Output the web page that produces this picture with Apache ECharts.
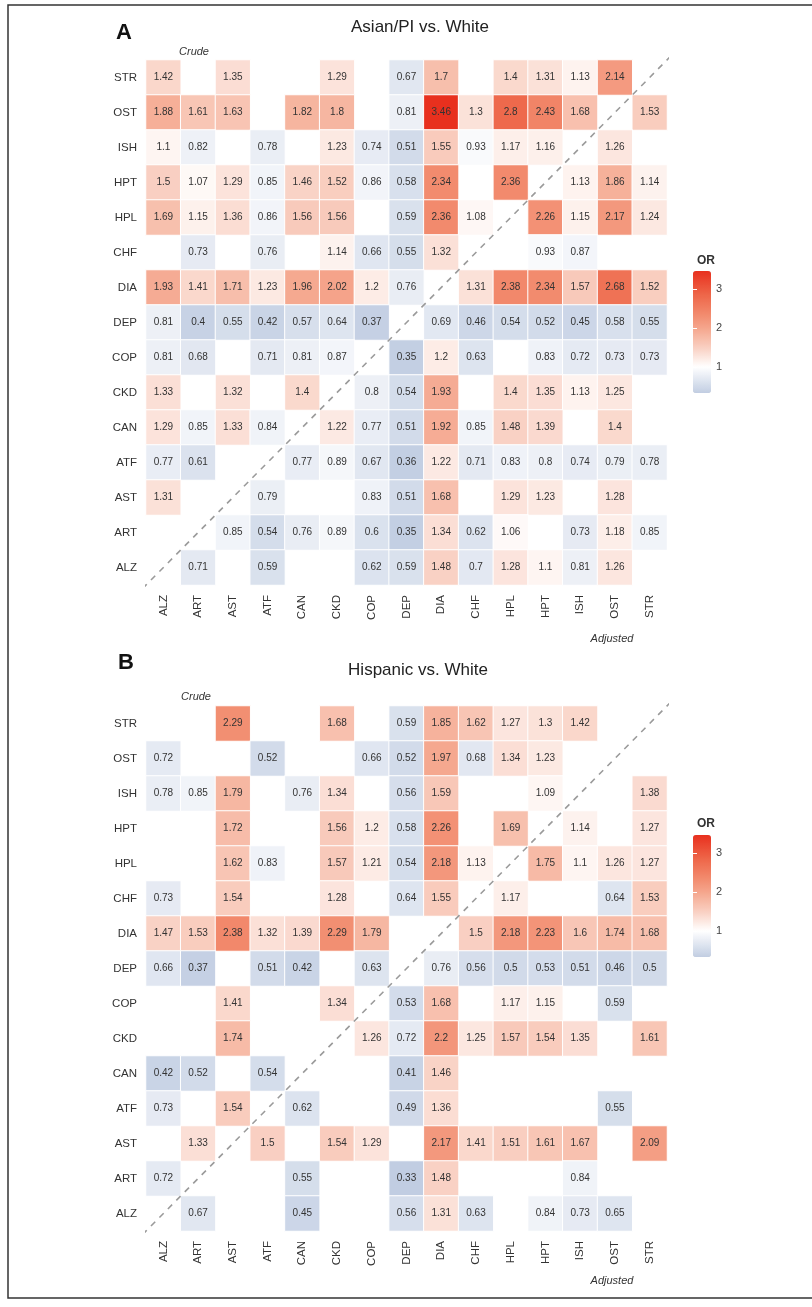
<!DOCTYPE html>
<html><head><meta charset="utf-8">
<script src="https://cdn.jsdelivr.net/npm/echarts@6/dist/echarts.min.js"></script>
<style>html,body{margin:0;padding:0;background:#fff}#c{width:812px;height:1307px}</style>
</head><body><div id="c"></div>
<script>
// Axis categories (x left->right, y bottom->top)
const conditions = ['ALZ','ART','AST','ATF','CAN','CKD','COP','DEP','DIA','CHF','HPL','HPT','ISH','OST','STR'];
// Rows listed top (STR) to bottom (ALZ); columns follow `conditions`; null = blank cell
const rowOrderTopDown = ['STR','OST','ISH','HPT','HPL','CHF','DIA','DEP','COP','CKD','CAN','ATF','AST','ART','ALZ'];

const asianVsWhite = [
  [1.42,null,1.35,null,null,1.29,null,0.67,1.7,null,1.4,1.31,1.13,2.14,null],
  [1.88,1.61,1.63,null,1.82,1.8,null,0.81,3.46,1.3,2.8,2.43,1.68,null,1.53],
  [1.1,0.82,null,0.78,null,1.23,0.74,0.51,1.55,0.93,1.17,1.16,null,1.26,null],
  [1.5,1.07,1.29,0.85,1.46,1.52,0.86,0.58,2.34,null,2.36,null,1.13,1.86,1.14],
  [1.69,1.15,1.36,0.86,1.56,1.56,null,0.59,2.36,1.08,null,2.26,1.15,2.17,1.24],
  [null,0.73,null,0.76,null,1.14,0.66,0.55,1.32,null,null,0.93,0.87,null,null],
  [1.93,1.41,1.71,1.23,1.96,2.02,1.2,0.76,null,1.31,2.38,2.34,1.57,2.68,1.52],
  [0.81,0.4,0.55,0.42,0.57,0.64,0.37,null,0.69,0.46,0.54,0.52,0.45,0.58,0.55],
  [0.81,0.68,null,0.71,0.81,0.87,null,0.35,1.2,0.63,null,0.83,0.72,0.73,0.73],
  [1.33,null,1.32,null,1.4,null,0.8,0.54,1.93,null,1.4,1.35,1.13,1.25,null],
  [1.29,0.85,1.33,0.84,null,1.22,0.77,0.51,1.92,0.85,1.48,1.39,null,1.4,null],
  [0.77,0.61,null,null,0.77,0.89,0.67,0.36,1.22,0.71,0.83,0.8,0.74,0.79,0.78],
  [1.31,null,null,0.79,null,null,0.83,0.51,1.68,null,1.29,1.23,null,1.28,null],
  [null,null,0.85,0.54,0.76,0.89,0.6,0.35,1.34,0.62,1.06,null,0.73,1.18,0.85],
  [null,0.71,null,0.59,null,null,0.62,0.59,1.48,0.7,1.28,1.1,0.81,1.26,null]
];

const hispanicVsWhite = [
  [null,null,2.29,null,null,1.68,null,0.59,1.85,1.62,1.27,1.3,1.42,null,null],
  [0.72,null,null,0.52,null,null,0.66,0.52,1.97,0.68,1.34,1.23,null,null,null],
  [0.78,0.85,1.79,null,0.76,1.34,null,0.56,1.59,null,null,1.09,null,null,1.38],
  [null,null,1.72,null,null,1.56,1.2,0.58,2.26,null,1.69,null,1.14,null,1.27],
  [null,null,1.62,0.83,null,1.57,1.21,0.54,2.18,1.13,null,1.75,1.1,1.26,1.27],
  [0.73,null,1.54,null,null,1.28,null,0.64,1.55,null,1.17,null,null,0.64,1.53],
  [1.47,1.53,2.38,1.32,1.39,2.29,1.79,null,null,1.5,2.18,2.23,1.6,1.74,1.68],
  [0.66,0.37,null,0.51,0.42,null,0.63,null,0.76,0.56,0.5,0.53,0.51,0.46,0.5],
  [null,null,1.41,null,null,1.34,null,0.53,1.68,null,1.17,1.15,null,0.59,null],
  [null,null,1.74,null,null,null,1.26,0.72,2.2,1.25,1.57,1.54,1.35,null,1.61],
  [0.42,0.52,null,0.54,null,null,null,0.41,1.46,null,null,null,null,null,null],
  [0.73,null,1.54,null,0.62,null,null,0.49,1.36,null,null,null,null,0.55,null],
  [null,1.33,null,1.5,null,1.54,1.29,null,2.17,1.41,1.51,1.61,1.67,null,2.09],
  [0.72,null,null,null,0.55,null,null,0.33,1.48,null,null,null,0.84,null,null],
  [null,0.67,null,null,0.45,null,null,0.56,1.31,0.63,null,0.84,0.73,0.65,null]
];

const legendTicks = [1, 2, 3];
const orRange = [0.33, 3.46];
// diagonal reference line endpoints (in cell units, slightly past the corners)
const diagonal = [[-0.6, -0.6], [14.65, 14.65]];

// ---- colour scale (white at OR = 1) ----
const colorStops = [
  [0.33, [193, 205, 226]],
  [1.0, [255, 255, 255]],
  [1.5, [249, 207, 193]],
  [1.98, [245, 167, 142]],
  [2.35, [242, 138, 109]],
  [2.85, [238, 102, 73]],
  [3.46, [232, 48, 30]]
];
function colorAt(v) {
  for (let i = 1; i < colorStops.length; i++) {
    const [v0, c0] = colorStops[i - 1], [v1, c1] = colorStops[i];
    if (v <= v1) {
      const t = Math.max(0, (v - v0) / (v1 - v0));
      const c = c0.map((x, k) => Math.round(x + (c1[k] - x) * t));
      return 'rgb(' + c.join(',') + ')';
    }
  }
  return 'rgb(' + colorStops[colorStops.length - 1][1].join(',') + ')';
}
const paletteN = 120;
const palette = [];
for (let i = 0; i < paletteN; i++) palette.push(colorAt(orRange[0] + (orRange[1] - orRange[0]) * i / (paletteN - 1)));

function toCells(rows) {
  const out = [];
  rows.forEach((row, r) => {
    const yi = conditions.indexOf(rowOrderTopDown[r]);
    row.forEach((v, xi) => { if (v !== null) out.push([xi, yi, v]); });
  });
  return out;
}

const FONT = "'Liberation Sans', Arial, sans-serif";
const panels = [
  { top: 60, legendTop: 271 },
  { top: 706, legendTop: 835 }
];

const grid = [], xAxis = [], yAxis = [], series = [], visualMap = [];
panels.forEach((p, i) => {
  grid.push({ left: 146, width: 521, top: p.top, height: 525 });
});
panels.forEach((p, i) => {
  grid.push({ left: 693, width: 18, top: p.legendTop, height: 122 });
});

// heatmap category axes (index 0,1)
[0, 1].forEach(g => {
  xAxis.push({ type: 'category', gridIndex: g, data: conditions, position: 'bottom',
    axisLine: { show: false }, axisTick: { show: false }, splitLine: { show: false },
    axisLabel: { rotate: 90, fontSize: 11.5, color: '#333', margin: 10, fontFamily: FONT } });
  yAxis.push({ type: 'category', gridIndex: g, data: conditions,
    axisLine: { show: false }, axisTick: { show: false }, splitLine: { show: false },
    axisLabel: { fontSize: 11.5, color: '#333', margin: 9, fontFamily: FONT } });
});
// hidden value axes for diagonal (index 2,3)
[0, 1].forEach(g => {
  xAxis.push({ type: 'value', gridIndex: g, min: -0.5, max: 14.5, show: false });
  yAxis.push({ type: 'value', gridIndex: g, min: -0.5, max: 14.5, show: false });
});
// legend axes (xAxis 4,5 ; yAxis 4,5 right labelled ; yAxis 6,7 left ticks)
[2, 3].forEach(g => {
  xAxis.push({ type: 'value', gridIndex: g, min: 0, max: 1, show: false });
  yAxis.push({ type: 'value', gridIndex: g, min: orRange[0], max: orRange[1], position: 'right', z: 10,
    axisLine: { show: false }, splitLine: { show: false },
    axisTick: { show: true, inside: true, length: 4, lineStyle: { color: '#fff', width: 1 }, customValues: legendTicks },
    axisLabel: { show: true, customValues: legendTicks, fontSize: 11, color: '#444', margin: 5, fontFamily: FONT } });
});
[2, 3].forEach(g => {
  yAxis.push({ type: 'value', gridIndex: g, min: orRange[0], max: orRange[1], position: 'left', z: 10,
    axisLine: { show: false }, splitLine: { show: false },
    axisTick: { show: true, inside: true, length: 4, lineStyle: { color: '#fff', width: 1 }, customValues: legendTicks },
    axisLabel: { show: false } });
});

[asianVsWhite, hispanicVsWhite].forEach((rows, i) => {
  series.push({
    type: 'heatmap', xAxisIndex: i, yAxisIndex: i, data: toCells(rows),
    itemStyle: { borderColor: '#fff', borderWidth: 1 },
    label: { show: true, fontSize: 10, color: '#333', fontFamily: FONT, formatter: p => String(p.value[2]) },
    emphasis: { disabled: true }
  });
});
[0, 1].forEach(i => {
  series.push({
    type: 'line', xAxisIndex: 2 + i, yAxisIndex: 2 + i, data: diagonal, clip: false,
    symbol: 'none', silent: true, z: 5,
    lineStyle: { color: '#9a9a9a', width: 1.6, type: [6, 6] }
  });
});

panels.forEach((p, i) => {
  visualMap.push({
    type: 'continuous', seriesIndex: i, dimension: 2, min: orRange[0], max: orRange[1],
    calculable: false, orient: 'vertical', left: 693, top: p.legendTop, itemWidth: 18, itemHeight: 122,
    padding: 0, text: null, hoverLink: false, inRange: { color: palette }
  });
});

function txt(x, y, s, size, extra) {
  return { type: 'text', x, y, silent: true, z: 20,
    style: Object.assign({ text: s, fontSize: size, fontFamily: FONT, fill: '#222', textAlign: 'center', textVerticalAlign: 'middle' }, extra || {}) };
}
const graphic = [
  { type: 'rect', shape: { x: 8, y: 5, width: 830, height: 1293 }, style: { fill: 'none', stroke: '#333', lineWidth: 1.5 }, silent: true },
  txt(124, 33, 'A', 22, { fontWeight: 'bold', fill: '#111' }),
  txt(420, 27, 'Asian/PI vs. White', 17),
  txt(194, 52, 'Crude', 11, { fontStyle: 'italic', fill: '#333' }),
  txt(612, 639, 'Adjusted', 11, { fontStyle: 'italic', fill: '#333' }),
  txt(706, 261, 'OR', 12, { fontWeight: 'bold', fill: '#333' }),
  txt(126, 663, 'B', 22, { fontWeight: 'bold', fill: '#111' }),
  txt(418, 670, 'Hispanic vs. White', 17),
  txt(196, 697, 'Crude', 11, { fontStyle: 'italic', fill: '#333' }),
  txt(612, 1281, 'Adjusted', 11, { fontStyle: 'italic', fill: '#333' }),
  txt(706, 824, 'OR', 12, { fontWeight: 'bold', fill: '#333' })
];

const chart = echarts.init(document.getElementById('c'), null, { renderer: 'canvas' });
chart.setOption({
  animation: false,
  backgroundColor: '#fff',
  textStyle: { fontFamily: FONT },
  grid, xAxis, yAxis, series, visualMap, graphic
});
</script></body></html>
